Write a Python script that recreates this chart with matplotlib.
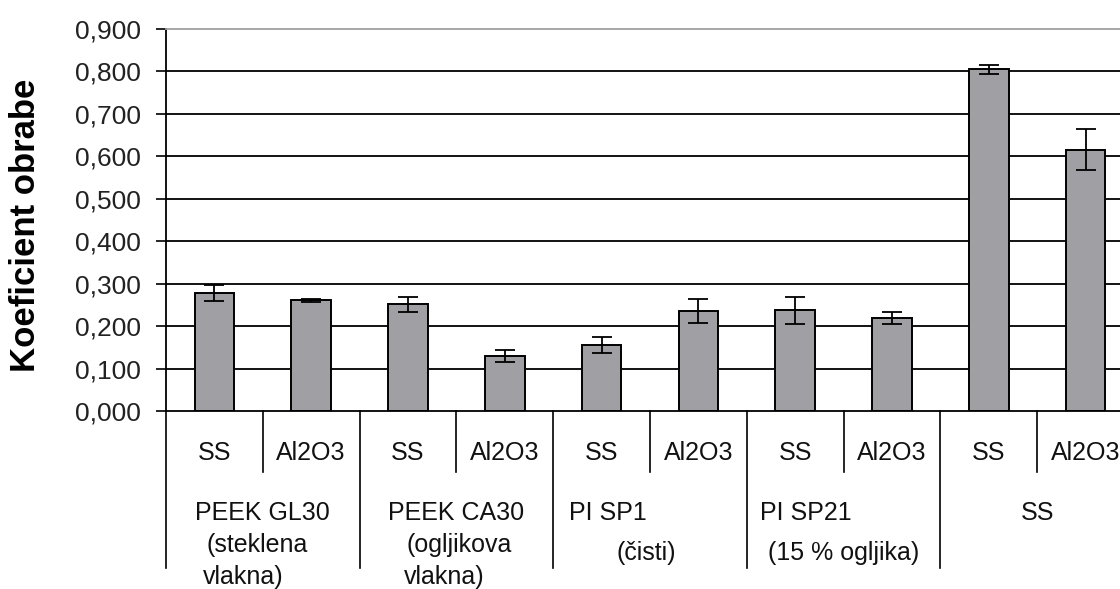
# -*- coding: utf-8 -*-

import matplotlib
matplotlib.use('Agg')
import matplotlib.pyplot as plt
import matplotlib.transforms as mtransforms

# podatki
podlage = ['SS', 'Al2O3', 'SS', 'Al2O3', 'SS', 'Al2O3', 'SS', 'Al2O3', 'SS', 'Al2O3']
materiali = [
	['PEEK GL30', '(steklena', 'vlakna)'],
	['PEEK CA30', '(ogljikova', 'vlakna)'],
	['PI SP1', '(čisti)'],
	['PI SP21', '(15 % ogljika)'],
	['SS'],
]
koeficient = [0.278, 0.261, 0.251, 0.130, 0.155, 0.235, 0.237, 0.219, 0.805, 0.616]
odklon = [0.018, 0.004, 0.017, 0.014, 0.019, 0.028, 0.031, 0.014, 0.010, 0.049]
yticki = [0.0, 0.1, 0.2, 0.3, 0.4, 0.5, 0.6, 0.7, 0.8, 0.9]

# zamiki vrstic pri imenih materialov (dx, dy v tockah)
zamiki = [
	[(0, 0), (-4, 0), (-14, 0)],
	[(0, 0), (2, 0), (-9, 0)],
	[(-30, 0), (-3, -6)],
	[(-27, 0), (0, -6)],
	[(0, 0)],
]

plt.rcParams['font.family'] = ['Liberation Sans', 'DejaVu Sans']

fig = plt.figure(figsize=(11.2, 5.89), dpi=100)
ax = fig.add_axes([0.1482, 0.3022, 0.8643, 0.6486])

x = list(range(len(podlage)))
for y in yticki[1:-1]:
	ax.axhline(y, color='black', linewidth=1.3, zorder=1)

ax.bar(x, koeficient, width=0.41, color='#a0a0a4', edgecolor='black', linewidth=1.4, zorder=2)
ax.errorbar(x, koeficient, yerr=odklon, fmt='none', ecolor='black', elinewidth=1.3,
	capsize=7.5, capthick=1.3, zorder=3)

ax.set_xlim(-0.5, len(podlage) - 0.5)
ax.set_ylim(0, 0.9)
ax.set_yticks(yticki)
ax.set_yticklabels([('%.3f' % v).replace('.', ',') for v in yticki], fontsize=19, color='#222222')
ax.tick_params(axis='y', direction='out', length=7, width=1.2, pad=11)
ax.set_xticks([])

ax.spines['left'].set_linewidth(1.3)
ax.spines['bottom'].set_linewidth(1.3)
ax.spines['top'].set_color('#a0a0a0')
ax.spines['top'].set_linewidth(1.3)
ax.spines['right'].set_visible(False)

fig.text(26 / 1120, 1 - 225 / 589, 'Koeficient obrabe', rotation=90, fontsize=25,
	fontweight='bold', ha='center', va='center')

# dvonivojska os x
tr = mtransforms.blended_transform_factory(ax.transData, ax.transAxes)
for k in range(len(podlage) + 1):
	spodaj = -0.16 if k % 2 else -0.411
	ax.plot([k - 0.5, k - 0.5], [0, spodaj], color='black', linewidth=1.2,
		transform=tr, clip_on=False)

for i, p in enumerate(podlage):
	ax.text(i, -0.11, p, transform=tr, ha='center', va='center',
		fontsize=18, color='#111111')

vrstice_y = [-0.267, -0.35, -0.435]
for g, vrstice in enumerate(materiali):
	sredina = 2 * g + 0.5
	for j, vrstica in enumerate(vrstice):
		ax.annotate(vrstica, xy=(sredina, vrstice_y[j]), xycoords=tr,
			xytext=zamiki[g][j], textcoords='offset points',
			ha='center', va='center', fontsize=18, color='#111111', annotation_clip=False)

plt.savefig('out.png', dpi=100)
